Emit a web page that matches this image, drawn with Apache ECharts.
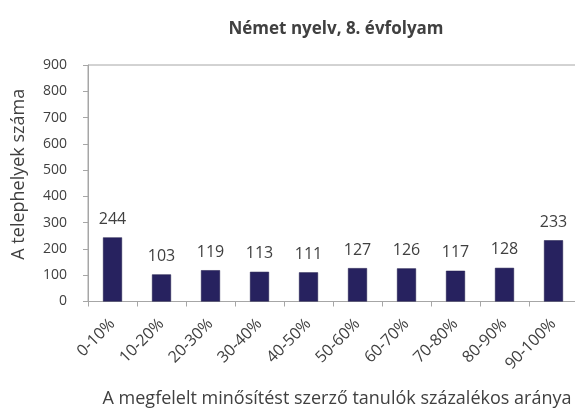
<!DOCTYPE html>
<html>
<head>
<meta charset="utf-8">
<script src="https://cdn.jsdelivr.net/npm/echarts@6/dist/echarts.min.js"></script>
<style>
html,body{margin:0;padding:0;background:#fff;}
#chart{width:575px;height:415px;}
</style>
</head>
<body>
<div id="chart"></div>
<script>
const titleText = 'Német nyelv, 8. évfolyam';
const xAxisName = 'A megfelelt minősítést szerző tanulók százalékos aránya';
const yAxisName = 'A telephelyek száma';
const categories = ['0-10%','10-20%','20-30%','30-40%','40-50%','50-60%','60-70%','70-80%','80-90%','90-100%'];
const values = [244,103,119,113,111,127,126,117,128,233];
const yMin = 0, yMax = 900, yInterval = 100;

const font = '"Open Sans", sans-serif';
const chart = echarts.init(document.getElementById('chart'), null, {renderer:'canvas'});
chart.setOption({
  animation:false,
  backgroundColor:'#ffffff',
  title:{
    text:titleText,
    left:331, top:16, textAlign:'center',
    textStyle:{fontFamily:font,fontSize:17,fontWeight:'bold',color:'#404040'}
  },
  grid:{left:88, right:-3, top:65, bottom:113.5, show:true, borderColor:'#a6a6a6', borderWidth:1, containLabel:false, outerBoundsMode:'none'},
  xAxis:{
    type:'category', data:categories,
    name:xAxisName, nameLocation:'middle', nameGap:88,
    nameTextStyle:{fontFamily:font,fontSize:18,color:'#404040',padding:[0,0,0,8]},
    axisLine:{lineStyle:{color:'#a6a6a6'}},
    axisTick:{show:true,length:5,lineStyle:{color:'#a6a6a6'}},
    axisLabel:{rotate:45,margin:20,fontFamily:font,fontSize:16,color:'#404040',interval:0}
  },
  yAxis:{
    type:'value', min:yMin, max:yMax, interval:yInterval,
    name:yAxisName, nameLocation:'middle', nameGap:60,
    nameTextStyle:{fontFamily:font,fontSize:18,color:'#404040',padding:[0,0,0,18]},
    axisLine:{show:true,lineStyle:{color:'#a6a6a6'}},
    axisTick:{show:true,length:5,lineStyle:{color:'#a6a6a6'}},
    splitLine:{show:false},
    axisLabel:{margin:21,fontFamily:font,fontSize:14,color:'#404040'}
  },
  series:[{
    type:'bar', data:values, barWidth:19,
    itemStyle:{color:'#27225f', borderColor:'#1c1848', borderWidth:0.5},
    label:{show:true,position:'top',distance:10,fontFamily:font,fontSize:16,color:'#404040'}
  }]
});
</script>
</body>
</html>
